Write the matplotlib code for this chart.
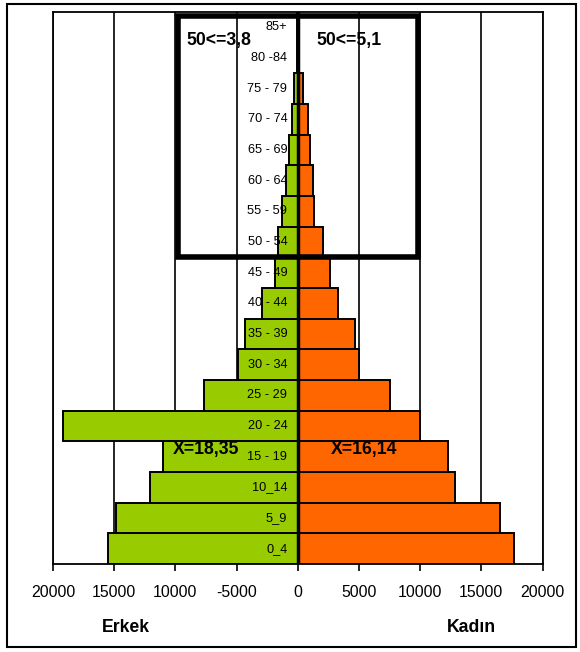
import matplotlib.pyplot as plt
from matplotlib.patches import Rectangle

plt.rcParams['font.family'] = ['Liberation Sans', 'DejaVu Sans']

# Age groups (bottom to top) and population by sex
age_groups = ["0_4", "5_9", "10_14", "15 - 19", "20 - 24", "25 - 29", "30 - 34",
              "35 - 39", "40 - 44", "45 - 49", "50 - 54", "55 - 59", "60 - 64",
              "65 - 69", "70 - 74", "75 - 79", "80 -84", "85+"]
erkek = [15530, 14880, 12050, 11000, 19200, 7690, 4850, 4280, 2890, 1890,
         1640, 1260, 990, 710, 440, 280, 60, 40]
kadin = [17700, 16550, 12850, 12300, 10000, 7510, 4980, 4700, 3290, 2660,
         2060, 1360, 1250, 970, 810, 430, 100, 60]

xticks = [-20000, -15000, -10000, -5000, 0, 5000, 10000, 15000, 20000]
xtick_labels = ["20000", "15000", "10000", "-5000", "0", "5000", "10000", "15000", "20000"]

fig = plt.figure(figsize=(5.8, 6.52), dpi=100)
ax = fig.add_axes([0.0914, 0.135, 0.844, 0.8466])

y = list(range(len(age_groups)))
ax.barh(y, [-v for v in erkek], height=1.0, color="#99CC00", edgecolor="black",
        linewidth=1.4, zorder=3)
ax.barh(y, kadin, height=1.0, color="#FF6600", edgecolor="black",
        linewidth=1.4, zorder=3)

for xt in xticks:
    ax.axvline(xt, color="black", linewidth=1.2, zorder=1)
ax.axvline(0, color="black", linewidth=2.5, zorder=4)

for i, lab in enumerate(age_groups):
    ax.text(-850, i, lab, ha="right", va="center", fontsize=9.2, zorder=5)

ax.set_xlim(-20000, 20000)
ax.set_ylim(-0.5, len(age_groups) - 0.5)
ax.set_yticks([])
ax.set_xticks(xticks)
ax.set_xticklabels(xtick_labels, fontsize=11.4)
ax.tick_params(axis="x", length=5, width=1.2, pad=10)
for s in ax.spines.values():
    s.set_linewidth(1.3)

# highlighted box for age 50+
ax.add_patch(Rectangle((-9750, 9.5), 19600, 7.88, fill=False, edgecolor="black",
                       linewidth=4, zorder=6, clip_on=False))

bold = dict(fontsize=12.7, fontweight="bold", va="center", zorder=7)
ax.text(-9100, 16.58, "50<=3,8", ha="left", **bold)
ax.text(1500, 16.58, "50<=5,1", ha="left", **bold)
ax.text(-10200, 3.22, "X=18,35", ha="left", **bold)
ax.text(2700, 3.22, "X=16,14", ha="left", **bold)

fig.text(126 / 580, 1 - 628 / 652, "Erkek", ha="center", va="center",
         fontsize=12.7, fontweight="bold")
fig.text(471 / 580, 1 - 628 / 652, "Kadın", ha="center", va="center",
         fontsize=12.7, fontweight="bold")

fig.patches.append(Rectangle((7 / 580, 5 / 652), 569 / 580, 643 / 652,
                             transform=fig.transFigure, fill=False,
                             edgecolor="black", linewidth=1.5))

fig.savefig("out.png", dpi=100)
